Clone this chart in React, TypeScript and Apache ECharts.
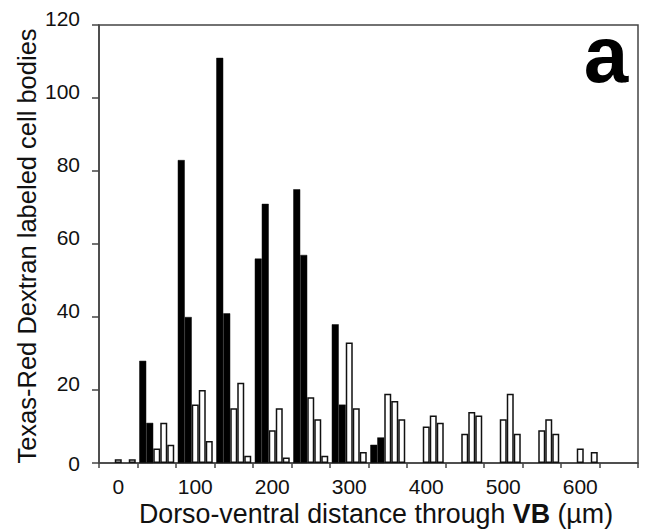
import React, { useEffect, useRef } from "react";
import * as echarts from "echarts";

const categories = ["0", "50", "100", "150", "200", "250", "300", "350", "400", "450", "500", "550", "600", "650"];
const black1 = [null, 28, 83, 111, 56, 75, 38, 5, null, null, null, null, null, null];
const black2 = [null, 11, 40, 41, 71, 57, 16, 7, null, null, null, null, null, null];
const white1 = [1, 4, 16, 15, 9, 18, 33, 19, 10, 8, 12, 9, 4, null];
const white2 = [null, 11, 20, 22, 15, 12, 15, 17, 13, 14, 19, 12, null, null];
const white3 = [1, 5, 6, 2, 1.5, 2, 3, 12, 11, 13, 8, 8, 3, null];
const yTicks = { min: 0, max: 120, interval: 20 };
const xTitle = "Dorso-ventral distance through {b|VB} (µm)";
const yTitle = "Texas-Red Dextran labeled cell bodies";
const panelLetter = "a";

const FONT = "'Liberation Sans', Arial, Helvetica, sans-serif";

export default function App() {
  const ref = useRef<HTMLDivElement>(null);
  useEffect(() => {
    if (!ref.current) return;
    const chart = echarts.init(ref.current, undefined, { renderer: "svg" });
    const mk = (name: string, data: (number | null)[], black: boolean) => ({
      name,
      type: "bar",
      data: data.map((v) => (v === null ? "-" : v)),
      barWidth: 7,
      barGap: "0%",
      itemStyle: {
        color: black ? "#000" : "#fff",
        borderColor: "#111",
        borderWidth: black ? 0.5 : 1.5,
      },
    });
    chart.setOption({
      animation: false,
      textStyle: { fontFamily: FONT },
      grid: {
        left: 99,
        right: 9,
        top: 25,
        bottom: 66,
        containLabel: false,
        outerBoundsMode: "none",
        show: true,
        borderColor: "#444",
        borderWidth: 1.5,
        backgroundColor: "transparent",
      },
      xAxis: {
        type: "category",
        data: categories,
        boundaryGap: true,
        axisLine: { lineStyle: { color: "#444", width: 1.5 } },
        axisTick: { show: true, interval: 0, length: 5, inside: false, lineStyle: { color: "#444", width: 1.5 } },
        axisLabel: { interval: 1, fontSize: 21, color: "#111", margin: 13, fontFamily: FONT },
        splitLine: { show: false },
      },
      yAxis: {
        type: "value",
        min: yTicks.min,
        max: yTicks.max,
        interval: yTicks.interval,
        axisLine: { show: true, lineStyle: { color: "#444", width: 1.5 } },
        axisTick: { show: true, length: 7, inside: false, lineStyle: { color: "#444", width: 1.5 } },
        axisLabel: {
          fontSize: 21,
          color: "#111",
          margin: 19,
          fontFamily: FONT,
          formatter: (v: number) => (v === 0 ? "{z|0}" : "{n|" + v + "}"),
          rich: {
            n: { fontSize: 21, color: "#111", padding: [0, 0, 14, 0], fontFamily: FONT },
            z: { fontSize: 21, color: "#111", fontFamily: FONT },
          },
        },
        splitLine: { show: false },
      },
      series: [
        mk("black1", black1, true),
        mk("black2", black2, true),
        mk("white1", white1, false),
        mk("white2", white2, false),
        mk("white3", white3, false),
      ],
      graphic: [
        {
          type: "text",
          x: 376,
          y: 514,
          style: {
            text: xTitle,
            fontSize: 26.8,
            fontFamily: FONT,
            fill: "#111",
            align: "center",
            verticalAlign: "middle",
            rich: { b: { fontSize: 26.8, fontWeight: "bold", fill: "#111", fontFamily: FONT } },
          },
        },
        {
          type: "text",
          x: 27,
          y: 246,
          rotation: Math.PI / 2,
          style: {
            text: yTitle,
            fontSize: 25.5,
            fontFamily: FONT,
            fill: "#111",
            align: "center",
            verticalAlign: "middle",
          },
        },
        {
          type: "text",
          x: 606,
          y: 54,
          style: {
            text: panelLetter,
            fontSize: 80,
            fontWeight: "bold",
            fontFamily: FONT,
            fill: "#000",
            align: "center",
            verticalAlign: "middle",
          },
        },
      ],
    });
    return () => chart.dispose();
  }, []);
  return <div ref={ref} style={{ width: 647, height: 529, position: "absolute", left: 0, top: 0, background: "#fff" }} />;
}
